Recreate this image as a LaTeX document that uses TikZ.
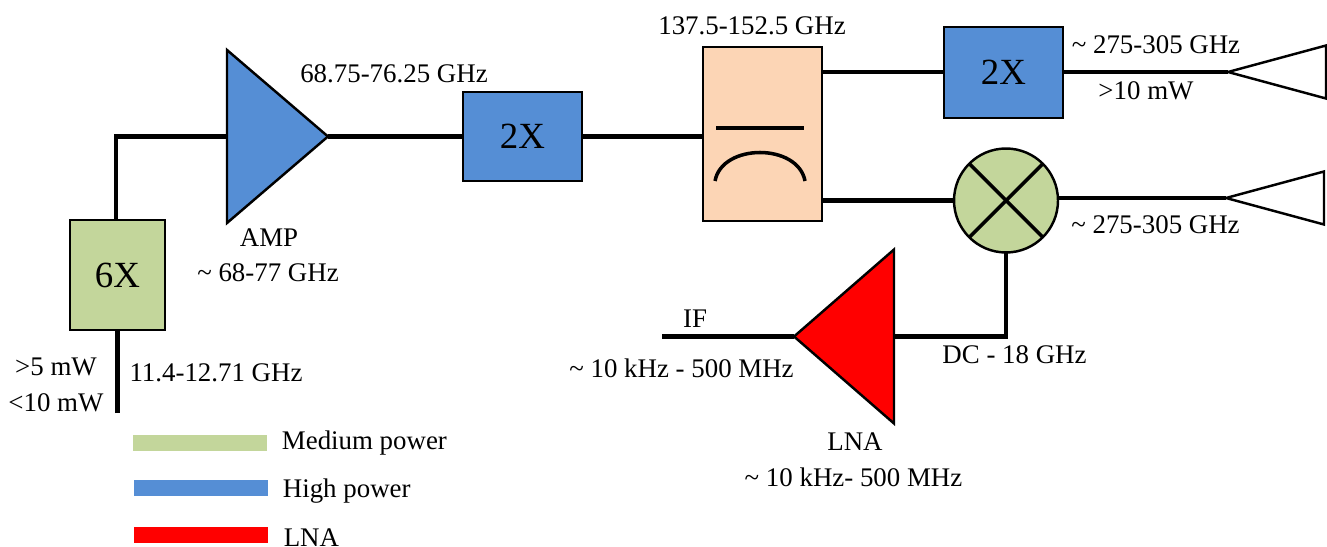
\documentclass[tikz,border=0pt]{standalone}
\usepackage{fontspec}
\setmainfont{Liberation Serif}
\usetikzlibrary{positioning,shapes.geometric}
\definecolor{med-pow}{HTML}{C3D69B}
\definecolor{high-pow}{HTML}{558ED5}
\definecolor{filt-pk}{HTML}{FCD5B5}

\begin{document}
\begin{tikzpicture}[x=0.02cm, y=-0.02cm, font=\fontsize{15.3}{18}\selectfont,
	   t/.style={inner sep=0pt, outer sep=0pt},
	   w/.style={line width=2.3pt, line join=miter},
	   b/.style={draw, line width=1.4pt, inner sep=0pt, outer sep=0pt, font=\fontsize{21}{24}\selectfont},
	   amp/.style={draw, line width=1.4pt, isosceles triangle, isosceles triangle stretches, inner sep=0pt, outer sep=0pt},
	   ant/.style={amp, shape border rotate=180, minimum height=1.96cm, minimum width=1.06cm, anchor=apex},
	   leg/.style={inner sep=0pt, outer sep=0pt, minimum width=2.68cm, minimum height=0.32cm}]
	  \useasboundingbox (0,0) rectangle (1327,547);
	  \node[b, fill=med-pow, minimum width=1.9cm, minimum height=2.2cm] (Mul6) at (117.5,275) {6X};
	  \node[amp, fill=high-pow, minimum height=2.02cm, minimum width=3.46cm, anchor=lower side] (Amp) at (227,136.5) {};
	  \node[b, fill=high-pow, minimum width=2.38cm, minimum height=1.78cm] (Dbl) at (522.5,136.5) {2X};
	  \node[b, fill=filt-pk, minimum width=2.38cm, minimum height=3.48cm] (Filt) at (762.5,134) {};
	  \node[b, fill=high-pow, minimum width=2.38cm, minimum height=1.82cm] (DblB) at (1003.5,72.5) {2X};
	  \node[b, circle, fill=med-pow, minimum size=2.08cm] (Mix) at (1006,200.5) {};
	  \node[ant] (AntA) at (1228,72) {};
	  \node[ant] (AntB) at (1226,198) {};
	  \node[amp, fill=red, shape border rotate=180, minimum height=2cm, minimum width=3.48cm, anchor=lower side] (Lna) at (894,336.5) {};
	  \coordinate (In) at (117.5,413);
	  \coordinate (IfEnd) at (662,336.5);
	  \coordinate (Up) at (116,136.5);
	  \coordinate (Dn) at (1006,336.5);
	  \coordinate (FiltA) at (822,72);
	  \coordinate (FiltB) at (822,200.5);
	  \draw[w] (In)--(Mul6.south); \draw[w] (Mul6.north -| Up)--(Up)--(Amp.lower side);
	  \draw[w] (Amp.apex)--(Dbl.west); \draw[w] (Dbl.east)--(Filt.west |- Dbl.east);
	  \draw[w] (FiltA)--(FiltA -| DblB.west); \draw[w] (DblB.east |- AntA.apex)--(AntA.apex);
	  \draw[w] (FiltB)--(Mix.west); \draw[w] (Mix.east |- AntB.apex)--(AntB.apex);
	  \draw[w] (Mix.south)--(Dn)--(Lna.lower side); \draw[w] (Lna.apex)--(IfEnd);
	  \draw[line width=2pt] (Mix.45)--(Mix.225); \draw[line width=2pt] (Mix.135)--(Mix.315);
	  \draw[w] (716,128)--(804,128);
	  \draw[line width=2pt] (715,181) .. controls (722,143) and (798,143) .. (805,181);
	  \node[t] (FreqA) at (394,74) {68.75-76.25 GHz};
	  \node[t] (FreqB) at (752,26) {137.5-152.5 GHz};
	  \node[t] (FreqC) at (1156,45) {\textasciitilde{} 275-305 GHz};
	  \node[t] (PowC) at (1146,91) {>10 mW};
	  \node[t] (FreqD) at (1155.5,225) {\textasciitilde{} 275-305 GHz};
	  \node[t] (AmpName) at (269,238) {AMP};
	  \node[t] (AmpFreq) at (268,273) {\textasciitilde{} 68-77 GHz};
	  \node[t] (PowA) at (56,367) {>5 mW};
	  \node[t] (PowB) at (56,403) {<10 mW};
	  \node[t] (FreqIn) at (216,373) {11.4-12.71 GHz};
	  \node[t] (IfName) at (695,319) {IF};
	  \node[t] (IfFreq) at (681.5,368) {\textasciitilde{} 10 kHz - 500 MHz};
	  \node[t] (DcFreq) at (1014.5,355) {DC - 18 GHz};
	  \node[t] (LnaName) at (855,442) {LNA};
	  \node[t] (LnaFreq) at (853.5,477) {\textasciitilde{} 10 kHz- 500 MHz};
	  \node[leg, fill=med-pow] (LegA) at (200,443) {};
	  \node[leg, fill=high-pow] (LegB) at (201,488) {};
	  \node[leg, fill=red] (LegC) at (201,534.5) {};
	  \node[t, right=8.5pt of LegA.east, anchor=west] (TxtA) {Medium power};
	  \node[t, right=8.5pt of LegB.east, anchor=west, yshift=-1.7pt] (TxtB) {High power};
	  \node[t, right=9pt of LegC.east, anchor=west, yshift=-1.7pt] (TxtC) {LNA};
	\end{tikzpicture}
\end{document}
